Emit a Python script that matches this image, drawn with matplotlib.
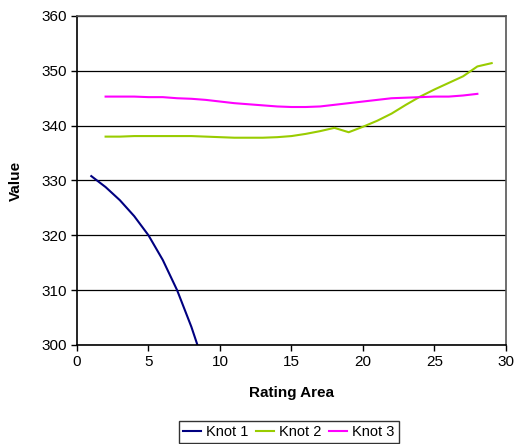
import matplotlib
matplotlib.use("Agg")
import matplotlib.pyplot as plt

plt.rcParams['font.family'] = ['Liberation Sans', 'DejaVu Sans']

knot1_x = [1, 2, 3, 4, 5, 6, 7, 8, 9]
knot1_y = [330.8, 328.8, 326.4, 323.5, 320.0, 315.5, 310.0, 303.3, 295.5]

knot2_x = list(range(2, 30))
knot2_y = [338.0, 338.0, 338.1, 338.1, 338.1, 338.1, 338.1, 338.0, 337.9, 337.8,
           337.8, 337.8, 337.9, 338.1, 338.5, 339.0, 339.6, 338.8, 339.8, 340.9,
           342.2, 343.8, 345.3, 346.6, 347.8, 349.0, 350.8, 351.4]

knot3_x = list(range(2, 29))
knot3_y = [345.3, 345.3, 345.3, 345.2, 345.2, 345.0, 344.9, 344.7, 344.4, 344.1,
           343.9, 343.7, 343.5, 343.4, 343.4, 343.5, 343.8, 344.1, 344.4, 344.7,
           345.0, 345.1, 345.2, 345.3, 345.3, 345.5, 345.8]

series_names = ["Knot 1", "Knot 2", "Knot 3"]
series_colors = ["#000080", "#99CC00", "#FF00FF"]

fig = plt.figure(figsize=(5.14, 4.44), dpi=100)
ax = fig.add_axes([0.1498, 0.223, 0.8346, 0.741])

for xs, ys, name, c in zip([knot1_x, knot2_x, knot3_x],
                           [knot1_y, knot2_y, knot3_y],
                           series_names, series_colors):
    ax.plot(xs, ys, color=c, lw=1.5, label=name)

ax.set_xlim(0, 30)
ax.set_ylim(300, 360)
ax.set_xticks(range(0, 31, 5))
ax.set_yticks(range(300, 361, 10))
ax.yaxis.grid(True, color="black", lw=0.9)
ax.set_axisbelow(True)
ax.tick_params(labelsize=11, length=4, width=1, colors="black")
for s in ["left", "bottom"]:
    ax.spines[s].set_color("black")
    ax.spines[s].set_linewidth(1.2)
for s in ["top", "right"]:
    ax.spines[s].set_color("#555555")
    ax.spines[s].set_linewidth(1.2)

ax.set_xlabel("Rating Area", fontsize=11, fontweight="bold", va="center")
ax.set_ylabel("Value", fontsize=11, fontweight="bold", va="center")
ax.xaxis.set_label_coords(0.5, -0.146)
ax.yaxis.set_label_coords(-0.142, 0.5)

leg = fig.legend(loc="center", bbox_to_anchor=(0.562, 0.027), ncol=3,
                 fontsize=10.5, frameon=True, fancybox=False, handlelength=1.2,
                 handletextpad=0.4, columnspacing=0.5, borderpad=0.3)
leg.get_frame().set_edgecolor("black")
leg.get_frame().set_linewidth(1.0)

fig.savefig("out.png", dpi=100)
